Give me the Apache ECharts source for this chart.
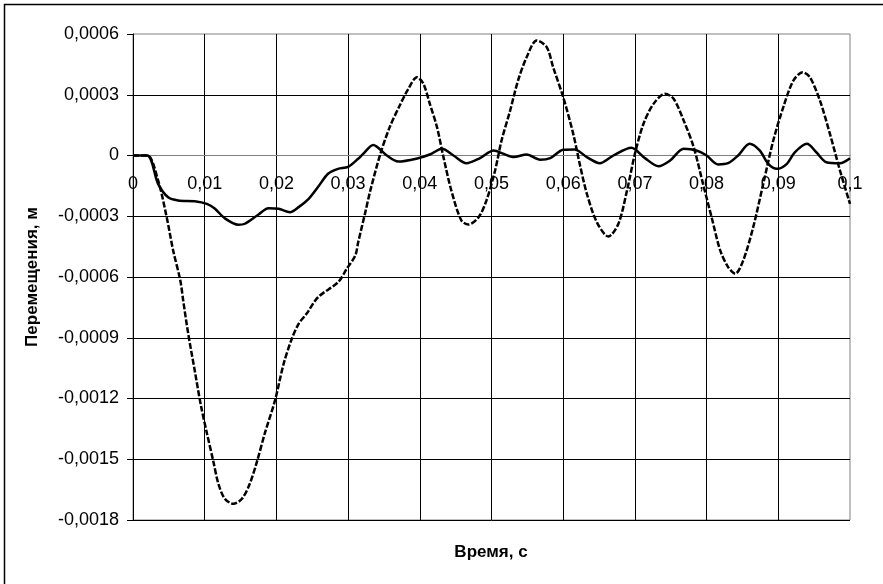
<!DOCTYPE html>
<html>
<head>
<meta charset="utf-8">
<script src="https://cdn.jsdelivr.net/npm/echarts@6/dist/echarts.min.js"></script>
</head>
<body style="margin:0;background:#fff">
<div id="main" style="width:883px;height:584px;"></div>
<script type="text/javascript">
// время, с  и перемещения, м
var t1 = [0, 0.002, 0.0035, 0.0049, 0.0063, 0.0086, 0.0103, 0.0114, 0.0128, 0.0147, 0.0156, 0.0175, 0.0189, 0.0203, 0.0219, 0.0231, 0.0245, 0.0258, 0.0272, 0.0286, 0.0300, 0.0314, 0.0321, 0.0335, 0.0354, 0.0370, 0.0395, 0.0414, 0.0431, 0.0447, 0.0465, 0.0484, 0.0503, 0.0517, 0.0531, 0.0549, 0.0568, 0.0582, 0.0600, 0.0616, 0.0633, 0.0651, 0.0670, 0.0695, 0.0714, 0.0733, 0.0749, 0.0768, 0.0786, 0.0800, 0.0816, 0.0830, 0.0844, 0.0860, 0.0874, 0.0886, 0.0898, 0.0912, 0.0923, 0.0940, 0.0953, 0.0967, 0.0986, 0.1000];
var u1 = [0, 0, -0.000140, -0.000206, -0.000222, -0.000226, -0.000239, -0.000262, -0.000310, -0.000342, -0.000337, -0.000291, -0.000260, -0.000263, -0.000280, -0.000255, -0.000214, -0.000156, -0.000090, -0.000066, -0.000056, -0.000016, 0.000008, 0.000052, 0, -0.000030, -0.000016, 0.000005, 0.000033, 0, -0.000038, -0.000013, 0.000025, 0.000008, -0.000008, 0.000005, -0.000021, -0.000013, 0.000028, 0.000030, -0.000008, -0.000038, 0, 0.000038, -0.000013, -0.000053, -0.000025, 0.000033, 0.000025, 0, -0.000044, -0.000038, 0, 0.000058, 0.000025, -0.000041, -0.000066, -0.000041, 0.000016, 0.000058, 0.000016, -0.000033, -0.000038, -0.000013];

var t2 = [0, 0.002, 0.0035, 0.0047, 0.0056, 0.0066, 0.0070, 0.0077, 0.0086, 0.0095, 0.0103, 0.0112, 0.0119, 0.0128, 0.0140, 0.0152, 0.0163, 0.0173, 0.0184, 0.0198, 0.0210, 0.0221, 0.0231, 0.0242, 0.0258, 0.0286, 0.0298, 0.0310, 0.0314, 0.0324, 0.0331, 0.0345, 0.0358, 0.0372, 0.0384, 0.0396, 0.0405, 0.0414, 0.0424, 0.0433, 0.0444, 0.0458, 0.0468, 0.0482, 0.0493, 0.0505, 0.0514, 0.0526, 0.0537, 0.0549, 0.0563, 0.0577, 0.0586, 0.0600, 0.0614, 0.0623, 0.0633, 0.0647, 0.0663, 0.0677, 0.0689, 0.0700, 0.0712, 0.0726, 0.0742, 0.0754, 0.0768, 0.0782, 0.0795, 0.0807, 0.0819, 0.0830, 0.0840, 0.0851, 0.0865, 0.0879, 0.0893, 0.0907, 0.0921, 0.0934, 0.0944, 0.0958, 0.0972, 0.0986, 0.1000];
var u2 = [0, 0, -0.000123, -0.000305, -0.000469, -0.000617, -0.000716, -0.000880, -0.001060, -0.001240, -0.001370, -0.001510, -0.001620, -0.001695, -0.001720, -0.001695, -0.001620, -0.001510, -0.001370, -0.001210, -0.001030, -0.000910, -0.000831, -0.000782, -0.000700, -0.000626, -0.000560, -0.000494, -0.000430, -0.000280, -0.000173, 0.000008, 0.000140, 0.000247, 0.000329, 0.000387, 0.000354, 0.000255, 0.000140, -0.000008, -0.000173, -0.000321, -0.000341, -0.000305, -0.000222, -0.000074, 0.000074, 0.000222, 0.000370, 0.000485, 0.000568, 0.000535, 0.000436, 0.000288, 0.000107, -0.000041, -0.000189, -0.000330, -0.000400, -0.000337, -0.000173, 0.000008, 0.000157, 0.000255, 0.000305, 0.000280, 0.000173, 0.000041, -0.000140, -0.000305, -0.000469, -0.000551, -0.000584, -0.000519, -0.000354, -0.000140, 0.000074, 0.000239, 0.000370, 0.000411, 0.000387, 0.000272, 0.000107, -0.000074, -0.000239];

function pairs(t, u) {
    var out = [];
    for (var i = 0; i < t.length; i++) out.push([t[i], u[i]]);
    return out;
}

var font = '"Liberation Sans", Arial, sans-serif';
var myChart = echarts.init(document.getElementById('main'));

var option = {
    backgroundColor: '#fff',
    animation: false,
    grid: {
        left: 133, right: 33, top: 34, bottom: 64,
        show: true, borderColor: '#808080', borderWidth: 1
    },
    xAxis: {
        type: 'value',
        min: 0, max: 0.1, interval: 0.01,
        position: 'bottom',
        offset: -364.5, // ось времени проходит через ноль
        axisLine: { onZero: false, lineStyle: { color: '#808080', width: 1 } },
        axisTick: { show: false },
        axisLabel: {
            color: '#000', fontFamily: font, fontSize: 18, margin: 20,
            formatter: function (v) { return String(parseFloat(v.toFixed(3))).replace('.', ','); }
        },
        splitLine: { show: true, showMaxLine: false, lineStyle: { color: '#000', width: 1 } }
    },
    yAxis: {
        type: 'value',
        min: -0.0018, max: 0.0006, interval: 0.0003,
        name: 'Перемещения, м',
        nameLocation: 'middle',
        nameGap: 92,
        nameTextStyle: { color: '#000', fontFamily: font, fontSize: 17, fontWeight: 'bold' },
        axisLine: { show: true, onZero: false, lineStyle: { color: '#000', width: 1 } },
        axisTick: { show: true, length: 6, lineStyle: { color: '#000' } },
        axisLabel: {
            color: '#000', fontFamily: font, fontSize: 18, margin: 14,
            formatter: function (v) {
                if (Math.abs(v) < 1e-9) return '0';
                return v.toFixed(4).replace('.', ',');
            }
        },
        splitLine: { show: true, showMaxLine: false, lineStyle: { color: '#000', width: 1 } }
    },
    graphic: [
        { type: 'rect', shape: { x: 4.5, y: 4.5, width: 880, height: 582 },
          style: { fill: 'none', stroke: '#000', lineWidth: 1.5 }, silent: true },
        { type: 'text', x: 491, y: 552,
          style: { text: 'Время, с', fill: '#000', font: 'bold 17px ' + font, textAlign: 'center', textVerticalAlign: 'middle' } }
    ],
    series: [
        {
            type: 'line', data: pairs(t1, u1), symbol: 'none', smooth: 0.3,
            lineStyle: { color: '#000', width: 2.5 }
        },
        {
            type: 'line', data: pairs(t2, u2), symbol: 'none', smooth: 0.3,
            lineStyle: { color: '#000', width: 2.5, type: [6, 2] }
        }
    ]
};

myChart.setOption(option);
</script>
</body>
</html>
